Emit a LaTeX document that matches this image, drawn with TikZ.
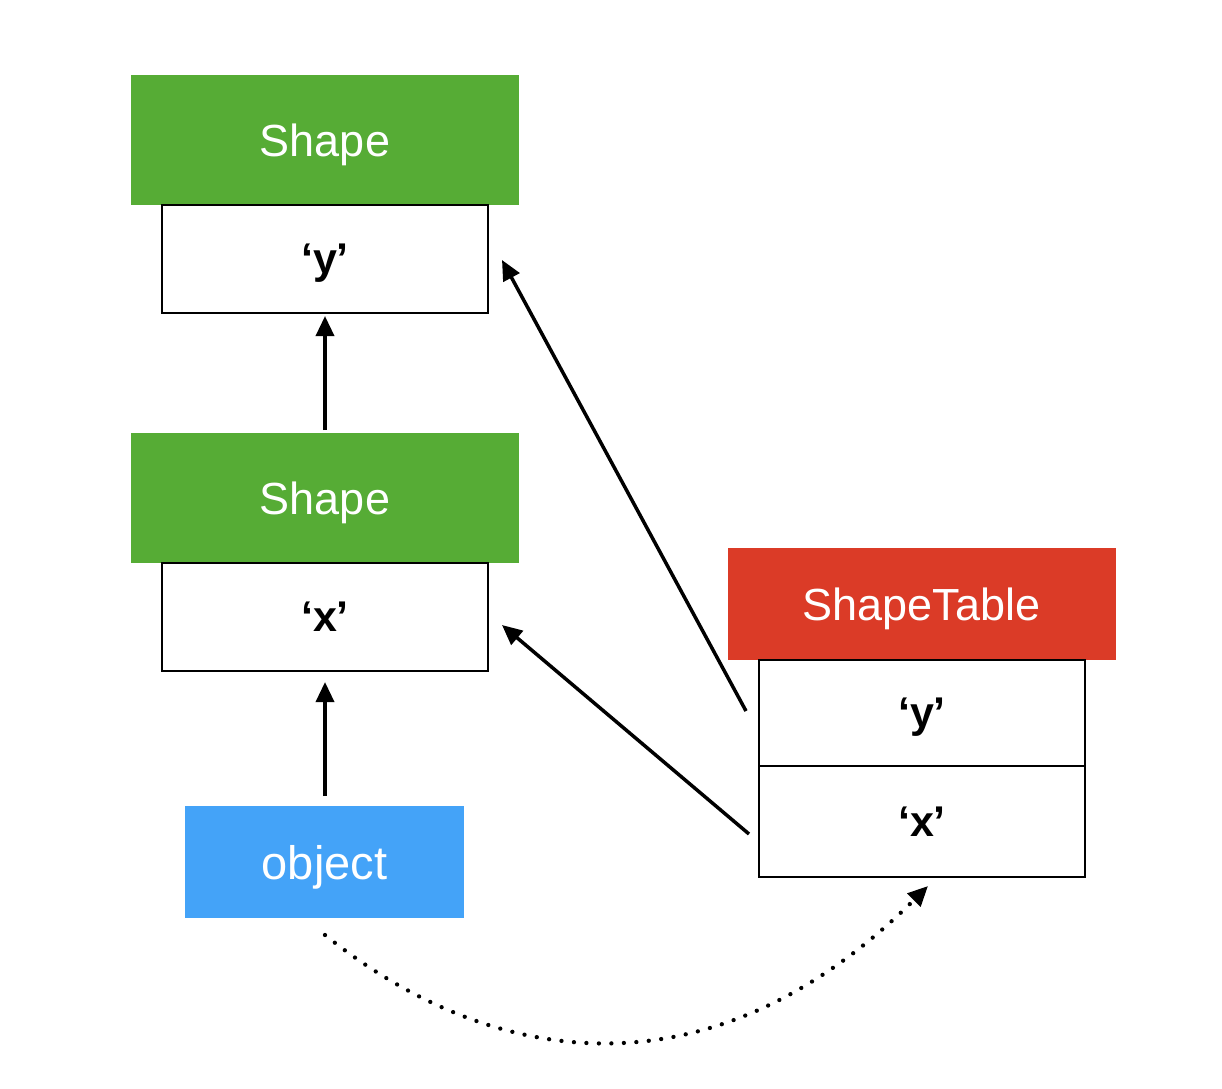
\documentclass[tikz,border=0pt]{standalone}
\usepackage{fontspec}
\setmainfont{Liberation Sans}
\usetikzlibrary{arrows.meta}
\definecolor{gr}{HTML}{56AC35}
\definecolor{bl}{HTML}{44A3F8}
\definecolor{rd}{HTML}{DB3B27}
\begin{document}
\begin{tikzpicture}[x=1pt,y=-1pt,
  hdr/.style={minimum width=388pt,minimum height=130pt,inner sep=0pt,text depth=0pt,text=white,font=\fontsize{45}{50}\selectfont},
  cell/.style={draw=black,line width=2pt,minimum width=326pt,minimum height=108pt,inner sep=0pt,text depth=0pt,font=\fontsize{43}{48}\selectfont\bfseries},
  arr/.style={line width=3.5pt,-{Triangle[length=20pt,width=18pt]}},
  dotarr/.style={line width=4.3pt,line cap=round,dash pattern=on 0pt off 12.5pt,-{Triangle[length=20pt,width=18pt]}}]
\useasboundingbox (0,0) rectangle (1222,1088);
\fill[white] (0,0) rectangle (1222,1088);
% left column
\node[hdr,fill=gr] (s1) at (325,140) {Shape};
\node[cell] (y1) at (325,258.5) {‘y’};
\node[hdr,fill=gr] (s2) at (325,498) {Shape};
\node[cell] (x1) at (325,616.5) {‘x’};
\node[hdr,fill=bl,minimum width=279pt,minimum height=112pt,font=\fontsize{47}{52}\selectfont] (obj) at (324.5,862) {object};
% right table
\node[hdr,fill=rd,minimum height=112pt] (st) at (921.5,604) {ShapeTable};
\node[cell,minimum height=106pt] (ty) at (922,713) {‘y’};
\node[cell,minimum height=111pt] (tx) at (922,821.5) {‘x’};
% coordinates
\coordinate (a1s) at (325,430);
\coordinate (a1e) at (325,316);
\coordinate (a2s) at (325,796);
\coordinate (a2e) at (325,682);
\coordinate (a3s) at (746,711);
\coordinate (a3e) at (502,260);
\coordinate (a4s) at (749,834);
\coordinate (a4e) at (502,625);
\coordinate (cs) at (325,935);
\coordinate (ce) at (928,886);
\draw[arr] (a1s) -- (a1e);
\draw[arr] (a2s) -- (a2e);
\draw[arr] (a3s) -- (a3e);
\draw[arr] (a4s) -- (a4e);
\draw[dotarr] (cs) .. controls (496,1072) and (714,1099) .. (ce);
\end{tikzpicture}
\end{document}
